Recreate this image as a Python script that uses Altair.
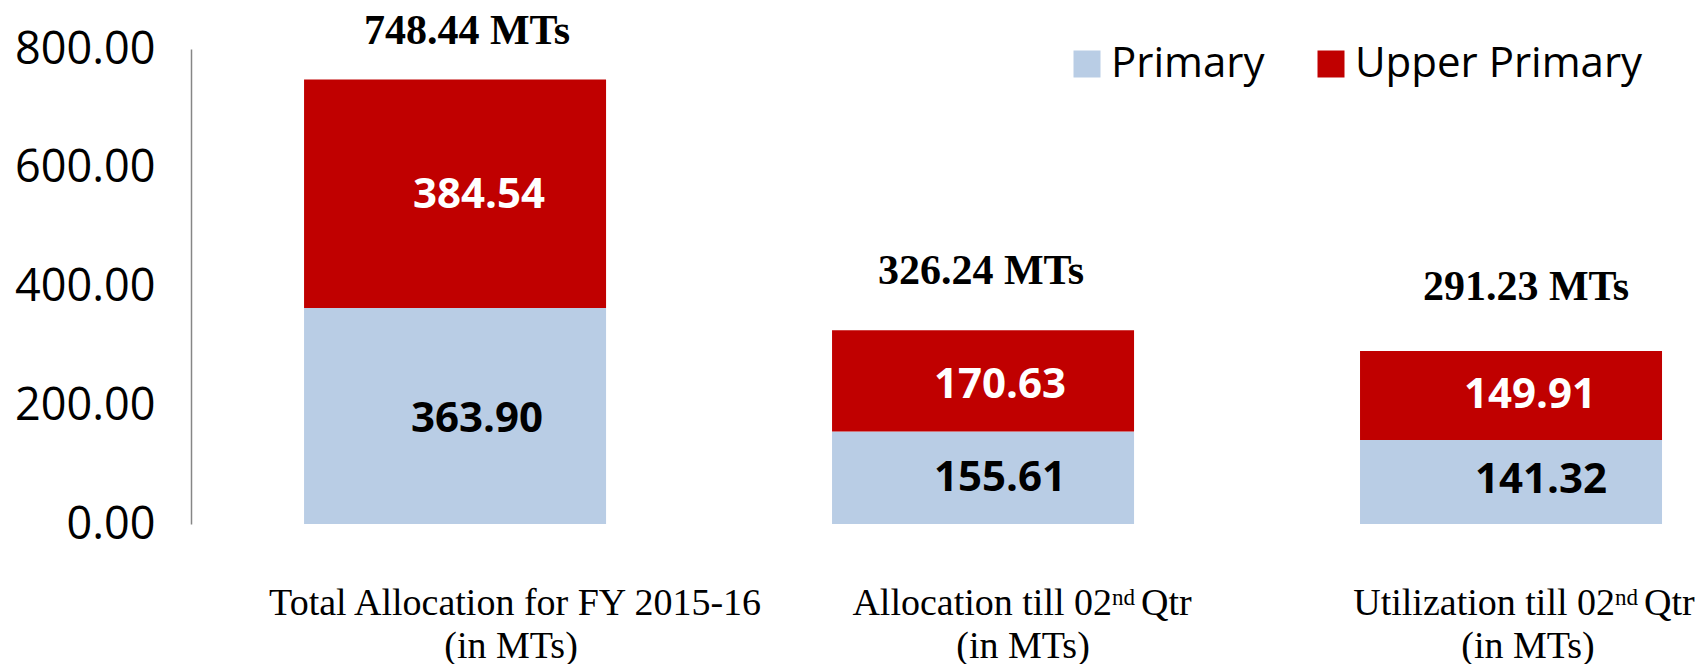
import altair as alt
import pandas as pd

# ---------------- data ----------------
categories = [
    "Total Allocation for FY 2015-16 (in MTs)",
    "Allocation till 02nd Qtr (in MTs)",
    "Utilization till 02nd Qtr (in MTs)",
]
series_names = ["Primary", "Upper Primary"]
primary = [363.90, 155.61, 141.32]
upper_primary = [384.54, 170.63, 149.91]
totals = [748.44, 326.24, 291.23]
y_ticks = [0, 200, 400, 600, 800]

# x-axis label text pieces (line 1 = main + superscript + tail, line 2)
label_main = ["Total Allocation for FY 2015-16", "Allocation till 02", "Utilization till 02"]
label_sup = ["", "nd", "nd"]
label_tail = ["", "Qtr", "Qtr"]
label_line2 = ["(in MTs)", "(in MTs)", "(in MTs)"]

# ---------------- styles ----------------
colors = ["#B9CDE5", "#C00000"]
seg_text_color = {"Primary": "#000000", "Upper Primary": "#FFFFFF"}
# per-bar label nudges (pixels)
seg_dx = {(0, "Primary"): 22, (0, "Upper Primary"): 24,
          (1, "Primary"): 17, (1, "Upper Primary"): 17,
          (2, "Primary"): 30, (2, "Upper Primary"): 19}
seg_dy = {(0, "Primary"): 3, (0, "Upper Primary"): 1,
          (1, "Primary"): 0, (1, "Upper Primary"): 4,
          (2, "Primary"): -2, (2, "Upper Primary"): -1}
tot_dx = [12, -2, 15]
tot_dy = [-36, -46, -51]
line1_center_dx = [60, 42, 19]
sup_anchor_dx = [None, 129, 104]
line2_dx = [56, 40, 17]
line1_dy = 91
sup_dy = 81
line2_dy = 134
tail_gap = 29

# ---------------- tables ----------------
rows = []
for i, cat in enumerate(categories):
    for o, (s, vals) in enumerate([("Primary", primary), ("Upper Primary", upper_primary)]):
        rows.append({"category": cat, "series": s, "value": vals[i], "order": o,
                     "label": f"{vals[i]:.2f}"})
df = pd.DataFrame(rows)

tot_df = pd.DataFrame({"category": categories, "total": totals,
                       "label": [f"{t:.2f} MTs" for t in totals]})
lab_df = pd.DataFrame({"category": categories, "main": label_main, "sup": label_sup,
                       "tail": label_tail, "line2": label_line2})

x_enc = alt.X("category:N", sort=categories, axis=None,
              scale=alt.Scale(paddingInner=0.428, paddingOuter=0.1345, align=0.796))
x_plain = alt.X("category:N", sort=categories, axis=None)
y_axis = alt.Axis(values=y_ticks, format=".2f", title=None, grid=False, ticks=False,
                  tickSize=0, labelFont="Open Sans", labelFontSize=45, labelColor="#000000",
                  labelPadding=36, domainColor="#868686", domainWidth=1.5)
y_scale = alt.Scale(domain=[0, 800], nice=False, zero=True)

bars = alt.Chart(df).mark_bar().encode(
    x=x_enc,
    y=alt.Y("value:Q", stack="zero", scale=y_scale, axis=y_axis),
    color=alt.Color("series:N", scale=alt.Scale(domain=series_names, range=colors),
                    legend=alt.Legend(title=None, orient="none", legendX=875, legendY=-6,
                                      direction="horizontal", symbolType="square",
                                      symbolSize=729, symbolStrokeWidth=0,
                                      labelFont="Open Sans", labelFontSize=42,
                                      labelColor="#000000", labelOffset=3,
                                      labelLimit=400, columnPadding=45, padding=0)),
    order=alt.Order("order:Q"),
)

layers = [bars]

stacked = alt.Chart(df).transform_stack(
    stack="value", groupby=["category"], as_=["v0", "v1"],
    sort=[alt.SortField("order", order="ascending")]
).transform_calculate(mid="(datum.v0 + datum.v1) / 2")

for i, cat in enumerate(categories):
    for s in series_names:
        layers.append(
            stacked.transform_filter(
                f"datum.category == '{cat}' && datum.series == '{s}'"
            ).mark_text(font="Open Sans", fontWeight="bold", fontSize=42,
                        color=seg_text_color[s], baseline="middle", align="center",
                        dx=seg_dx[(i, s)], dy=seg_dy[(i, s)]).encode(
                x=x_plain, y=alt.Y("mid:Q", scale=y_scale, axis=y_axis), text="label:N")
        )

    layers.append(
        alt.Chart(tot_df).transform_filter(f"datum.category == '{cat}'").mark_text(
            font="Liberation Serif", fontWeight="bold", fontSize=42, color="#000000",
            baseline="alphabetic", align="center", dx=tot_dx[i], dy=tot_dy[i]).encode(
            x=x_plain, y=alt.Y("total:Q", scale=y_scale, axis=y_axis), text="label:N")
    )

    lab = alt.Chart(lab_df).transform_filter(f"datum.category == '{cat}'")
    serif = dict(font="Liberation Serif", color="#000000", baseline="alphabetic")
    if label_sup[i]:
        layers.append(lab.mark_text(fontSize=38, align="right", dx=sup_anchor_dx[i],
                                    dy=line1_dy, **serif).encode(
            x=x_plain, y=alt.datum(0), text="main:N"))
        layers.append(lab.mark_text(fontSize=23, align="left", dx=sup_anchor_dx[i],
                                    dy=sup_dy, **serif).encode(
            x=x_plain, y=alt.datum(0), text="sup:N"))
        layers.append(lab.mark_text(fontSize=38, align="left",
                                    dx=sup_anchor_dx[i] + tail_gap, dy=line1_dy,
                                    **serif).encode(
            x=x_plain, y=alt.datum(0), text="tail:N"))
    else:
        layers.append(lab.mark_text(fontSize=38, align="center", dx=line1_center_dx[i],
                                    dy=line1_dy, **serif).encode(
            x=x_plain, y=alt.datum(0), text="main:N"))
    layers.append(lab.mark_text(fontSize=38, align="center", dx=line2_dx[i],
                                dy=line2_dy, **serif).encode(
        x=x_plain, y=alt.datum(0), text="line2:N"))

chart = alt.layer(*layers).properties(
    width=1500, height=475,
    padding={"left": 183, "top": 41, "right": 6, "bottom": 148},
    autosize=alt.AutoSizeParams(type="none"),
).configure_view(stroke=None)

chart.save("out.html", embed_options={"renderer": "svg", "actions": False})
